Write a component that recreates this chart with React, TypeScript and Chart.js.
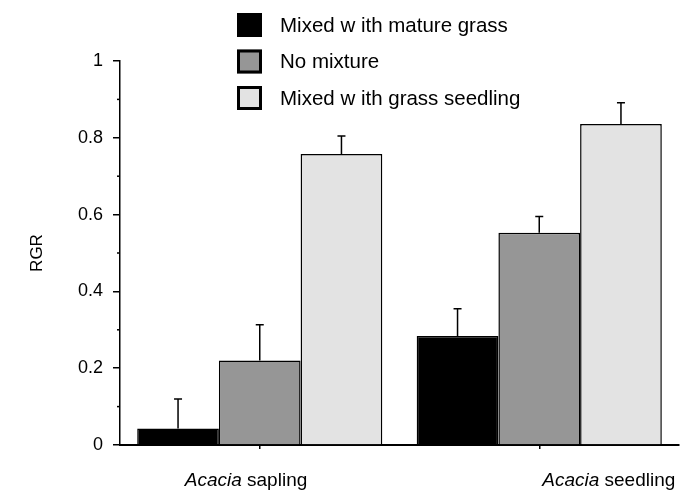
import React, { useEffect, useRef } from "react";
import { Chart, registerables } from "chart.js";

Chart.register(...registerables);

const categories = ["Acacia sapling", "Acacia seedling"];
const categoryItalic = ["Acacia", "Acacia"];
const categoryRest = [" sapling", " seedling"];
const seriesNames = ["Mixed w ith mature grass", "No mixture", "Mixed w ith grass seedling"];
const mixedMature = [0.043, 0.284];
const noMixture = [0.22, 0.553];
const mixedSeedling = [0.758, 0.836];
const errMixedMature = [0.077, 0.071];
const errNoMixture = [0.093, 0.042];
const errMixedSeedling = [0.047, 0.055];
const minorTicks = [0.1, 0.3, 0.5, 0.7, 0.9];

const FONT = "'Liberation Sans', Arial, sans-serif";

const errorBarPlugin = {
  id: "errorBars",
  afterDatasetsDraw(chart: any) {
    const ctx = chart.ctx;
    const y = chart.scales.y;
    chart.data.datasets.forEach((ds: any, di: number) => {
      const meta = chart.getDatasetMeta(di);
      meta.data.forEach((el: any, i: number) => {
        const v = ds.data[i];
        const e = ds.errors[i];
        const yTop = y.getPixelForValue(v + e);
        ctx.save();
        ctx.strokeStyle = "#000";
        ctx.lineWidth = 1.5;
        ctx.beginPath();
        ctx.moveTo(el.x, el.y);
        ctx.lineTo(el.x, yTop);
        ctx.moveTo(el.x - 4, yTop);
        ctx.lineTo(el.x + 4, yTop);
        ctx.stroke();
        ctx.restore();
      });
    });
  },
};

const decorPlugin = {
  id: "decor",
  afterDraw(chart: any) {
    const ctx = chart.ctx;
    const y = chart.scales.y;
    const x = chart.scales.x;
    ctx.save();
    // minor ticks
    ctx.strokeStyle = "#000";
    ctx.lineWidth = 1.5;
    minorTicks.forEach((t) => {
      const py = y.getPixelForValue(t);
      ctx.beginPath();
      ctx.moveTo(chart.chartArea.left - 3, py);
      ctx.lineTo(chart.chartArea.left, py);
      ctx.stroke();
    });
    // legend
    const rowY = [25, 61.5, 98];
    chart.data.datasets.forEach((ds: any, i: number) => {
      const cy = rowY[i];
      ctx.fillStyle = ds.backgroundColor;
      ctx.fillRect(237, cy - 12, 25, 24);
      ctx.strokeStyle = "#000";
      ctx.lineWidth = 3;
      ctx.strokeRect(238.5, cy - 10.5, 22, 21);
      ctx.fillStyle = "#000";
      ctx.font = `20.5px ${FONT}`;
      ctx.textBaseline = "middle";
      ctx.textAlign = "left";
      ctx.fillText(ds.label, 280, cy + 1);
    });
    // category labels
    const offsets = [-75, 3];
    categories.forEach((c, i) => {
      const px = x.getPixelForTick(i) + offsets[i];
      const py = 481;
      ctx.fillStyle = "#000";
      ctx.textBaseline = "middle";
      ctx.textAlign = "left";
      ctx.font = `italic 19px ${FONT}`;
      ctx.fillText(categoryItalic[i], px, py);
      const w = ctx.measureText(categoryItalic[i]).width;
      ctx.font = `19px ${FONT}`;
      ctx.fillText(categoryRest[i], px + w, py);
    });
    ctx.restore();
  },
};

export default function App() {
  const ref = useRef<HTMLCanvasElement | null>(null);
  useEffect(() => {
    if (!ref.current) return;
    const chart = new Chart(ref.current, {
      type: "bar",
      data: {
        labels: categories,
        datasets: [
          { label: seriesNames[0], data: mixedMature, errors: errMixedMature, backgroundColor: "#000000" } as any,
          { label: seriesNames[1], data: noMixture, errors: errNoMixture, backgroundColor: "#969696" } as any,
          { label: seriesNames[2], data: mixedSeedling, errors: errMixedSeedling, backgroundColor: "#e3e3e3" } as any,
        ].map((d: any) => ({
          ...d,
          borderColor: "#000",
          borderWidth: 1.5,
          categoryPercentage: 0.877,
          barPercentage: 1,
        })),
      },
      options: {
        animation: false,
        responsive: false,
        events: [],
        layout: { padding: { top: 61, right: 7, left: 0, bottom: 0 } },
        plugins: { legend: { display: false }, tooltip: { enabled: false } },
        scales: {
          x: {
            grid: { display: true, drawOnChartArea: false, offset: false, tickLength: 4, color: "#000", lineWidth: 1.5 },
            border: { display: true, color: "#000", width: 2 },
            ticks: { display: false },
            afterFit: (s: any) => { s.height = 48; },
          },
          y: {
            min: 0,
            max: 1,
            grid: { drawOnChartArea: false, tickLength: 7, color: "#000", lineWidth: 1.5 },
            border: { display: true, color: "#000", width: 1.5 },
            ticks: {
              stepSize: 0.2,
              padding: 10,
              color: "#000",
              font: { family: FONT, size: 18 },
              callback: (v: any) => String(Math.round(Number(v) * 10) / 10),
            },
            title: { display: true, text: "RGR", color: "#000", font: { family: FONT, size: 17 }, padding: { top: 27, bottom: 0 } },
            afterFit: (s: any) => { s.width = 120; },
          },
        },
      },
      plugins: [errorBarPlugin, decorPlugin],
    } as any);
    return () => chart.destroy();
  }, []);
  return (
    <div style={{ position: "fixed", left: 0, top: 0, width: 686, height: 493, background: "#fff" }}>
      <canvas ref={ref} width={686} height={493} style={{ display: "block" }} />
    </div>
  );
}
